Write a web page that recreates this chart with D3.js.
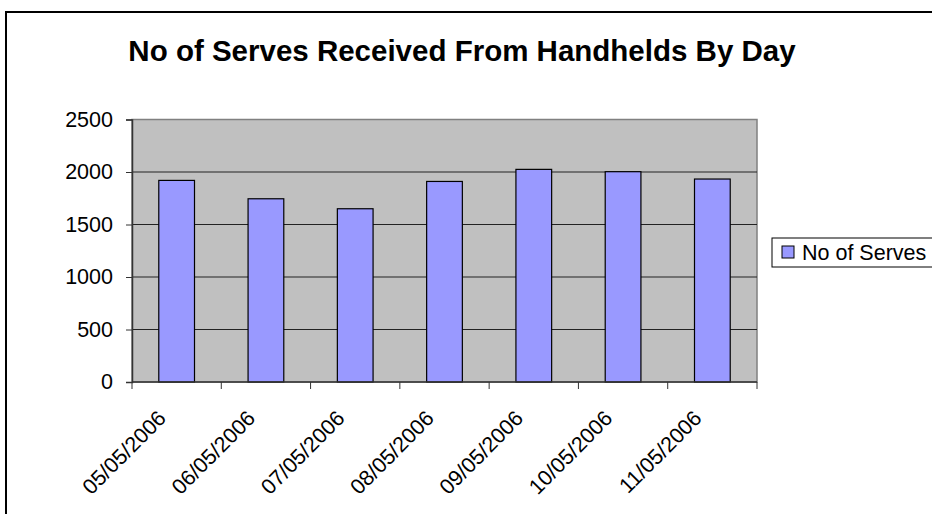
<!DOCTYPE html>
<html><head><meta charset="utf-8">
<script src="https://cdn.jsdelivr.net/npm/d3@7"></script>
<style>html,body{margin:0;padding:0;background:#fff;overflow:hidden}</style>
</head><body>
<svg id="c" width="932" height="514"></svg>
<script>
const categories = ["05/05/2006","06/05/2006","07/05/2006","08/05/2006","09/05/2006","10/05/2006","11/05/2006"];
const serves = [1920, 1745, 1650, 1910, 2025, 2003, 1933];
const yTicks = [0, 500, 1000, 1500, 2000, 2500];
const seriesName = "No of Serves";
const title = "No of Serves Received From Handhelds By Day";

const svg = d3.select("#c");
const font = "Liberation Sans, Arial, sans-serif";
const plot = {l: 132, t: 119.5, r: 757, b: 382};
const fs = 21.5;

// outer chart border (extends beyond the viewport on right/bottom)
svg.append("rect").attr("x", 6).attr("y", 12).attr("width", 1000).attr("height", 1000)
  .attr("fill", "#fff").attr("stroke", "#000").attr("stroke-width", 2);

svg.append("text").attr("x", 462).attr("y", 61).attr("text-anchor", "middle")
  .attr("font-family", font).attr("font-weight", "bold").attr("font-size", 29.5)
  .text(title);

const x = d3.scaleBand().domain(categories).range([plot.l, plot.r]).paddingInner(0.6).paddingOuter(0.3);
const xb = d3.scaleBand().domain(categories).range([plot.l, plot.r]);
const y = d3.scaleLinear().domain([0, 2500]).range([plot.b, plot.t]);

svg.append("rect").attr("x", plot.l).attr("y", plot.t).attr("width", plot.r - plot.l).attr("height", plot.b - plot.t)
  .attr("fill", "#C0C0C0").attr("stroke", "#808080").attr("stroke-width", 1.5);

svg.append("g").selectAll("line").data(yTicks.filter(d => d > 0 && d < 2500)).join("line")
  .attr("x1", plot.l).attr("x2", plot.r).attr("y1", d => y(d)).attr("y2", d => y(d))
  .attr("stroke", "#222").attr("stroke-width", 1);

svg.append("g").selectAll("rect").data(serves).join("rect")
  .attr("x", (d, i) => x(categories[i])).attr("width", x.bandwidth())
  .attr("y", d => y(d)).attr("height", d => y(0) - y(d))
  .attr("fill", "#9999FF").attr("stroke", "#000").attr("stroke-width", 1.2);

// y axis
const ya = svg.append("g").attr("transform", `translate(${plot.l},0)`)
  .call(d3.axisLeft(y).tickValues(yTicks).tickFormat(d3.format("d")).tickSize(6).tickPadding(13));
ya.select(".domain").attr("stroke", "#333").attr("stroke-width", 1.5);
ya.selectAll(".tick line").attr("stroke", "#333");
ya.selectAll("text").attr("font-family", font).attr("font-size", fs).attr("fill", "#000");

// x axis: ticks at category boundaries
const xg = svg.append("g").attr("transform", `translate(0,${plot.b})`);
xg.append("line").attr("x1", plot.l).attr("x2", plot.r).attr("stroke", "#333").attr("stroke-width", 1.5);
const bounds = categories.map(c => xb(c)).concat([plot.r]);
xg.selectAll("line.tk").data(bounds).join("line").attr("class", "tk")
  .attr("x1", d => d).attr("x2", d => d).attr("y1", 0).attr("y2", 7).attr("stroke", "#333");
xg.selectAll("text").data(categories).join("text")
  .attr("transform", c => `translate(${xb(c) + xb.bandwidth() / 2 - 20},${27}) rotate(-45)`)
  .attr("text-anchor", "end").attr("dy", "0.7em")
  .attr("font-family", font).attr("font-size", fs).attr("fill", "#000")
  .text(c => c);

// legend
const lg = svg.append("g");
lg.append("rect").attr("x", 772).attr("y", 238).attr("width", 200).attr("height", 29)
  .attr("fill", "#fff").attr("stroke", "#000").attr("stroke-width", 1);
lg.append("rect").attr("x", 782).attr("y", 246).attr("width", 12).attr("height", 12)
  .attr("fill", "#9999FF").attr("stroke", "#000").attr("stroke-width", 1);
lg.append("text").attr("x", 802).attr("y", 260).attr("font-family", font).attr("font-size", fs).text(seriesName);
</script>
</body></html>
